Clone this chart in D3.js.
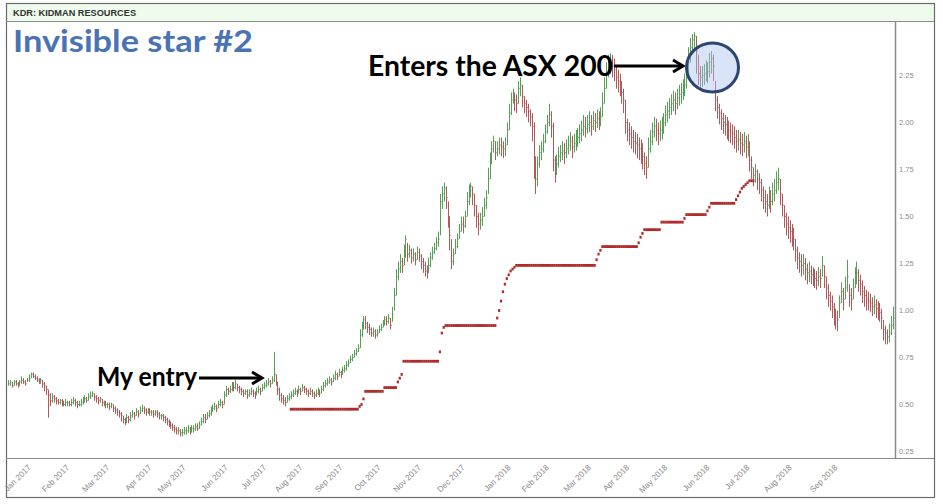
<!DOCTYPE html>
<html><head><meta charset="utf-8">
<script src="https://cdn.jsdelivr.net/npm/d3@7"></script>
<style>html,body{margin:0;padding:0;background:#fff}svg{display:block}</style>
</head><body>
<svg id="chart" width="943" height="504"></svg>
<script>
// ---- DATA (prices in cents, one bar per trading day) ----
const highC = [
63,63,62,63,63,62,63,65,64,63, 64,66,67,67,66,65,64,64,63,62,
60,58,56,56,55,54,53,53,53,52, 53,52,52,53,54,53,52,52,53,54,
55,54,56,57,57,56,55,54,54,53, 52,52,51,51,51,50,49,48,47,46,
44,43,45,44,46,47,46,48,47,49, 50,49,48,48,48,47,47,47,47,46,
45,45,44,43,42,41,40,39,38,38, 37,37,38,38,39,38,39,39,40,40,
41,43,45,45,46,47,49,50,51,50, 52,53,52,57,60,59,60,62,62,63,
61,60,59,58,58,58,58,59,58,57, 59,60,59,61,62,63,64,63,65,78,
66,62,59,56,55,54,55,56,57,58, 59,58,60,59,61,60,59,58,59,58,
57,58,59,58,60,62,63,64,65,64, 66,68,67,69,68,70,71,73,74,76,
77,79,80,82,90,94,97,97,94,93, 91,91,90,90,92,93,95,97,97,98,
96,102,112,122,126,130,128,135,140,136, 135,133,133,131,134,133,130,128,126,124,
128,131,134,136,139,142,162,166,168,166, 158,150,138,133,138,141,146,150,150,153,
163,167,168,166,162,156,152,152,155,160, 164,176,184,190,193,190,190,192,192,190,
192,200,210,216,218,216,215,222,224,220, 214,212,210,207,205,200,182,182,188,190,
194,199,204,210,206,200,182,183,187,188, 190,189,191,193,195,193,194,196,197,199,
201,204,203,204,206,204,206,205,207,206, 208,216,224,232,236,237,236,234,230,228,
226,222,218,212,202,200,198,196,195,194, 192,191,189,184,182,192,196,200,203,202,
200,201,203,205,209,211,213,215,217,216, 218,220,221,223,226,232,240,245,247,248,
246,236,230,230,231,233,232,237,238,236, 222,214,210,207,205,204,203,201,200,199,
198,196,196,195,194,195,193,194,190,182, 176,178,175,173,170,166,164,162,166,164,
168,170,174,176,170,162,156,152,150,148, 146,144,138,134,131,130,130,128,125,126,
124,123,122,121,123,122,129,124,118,114, 110,108,104,101,100,108,115,112,118,127,
114,112,117,123,126,122,119,116,113,111, 110,109,107,108,106,105,104,101,95,92,
90,93,97,102];
const lowC = [
60,60,59,60,60,59,60,61,61,60, 62,62,64,64,63,62,61,61,59,57,
55,43,49,51,51,50,50,50,49,49, 49,49,49,49,50,49,48,49,49,50,
51,51,52,53,54,52,51,50,51,49, 49,48,48,47,48,46,45,44,43,41,
40,39,40,40,41,43,42,44,43,45, 46,45,44,45,44,44,43,44,43,42,
42,41,40,39,38,37,36,35,34,34, 33,33,34,34,35,34,35,35,36,36,
37,39,40,40,42,43,44,46,47,46, 48,49,48,50,54,55,56,57,57,58,
57,56,55,54,55,53,54,55,54,53, 55,56,55,57,58,59,60,59,61,62,
60,55,52,51,50,49,51,52,53,54, 55,54,56,55,57,56,55,54,55,54,
53,54,55,54,56,57,59,60,61,60, 62,63,63,65,64,66,67,68,70,72,
73,75,76,78,80,86,90,90,88,87, 86,86,85,86,88,89,91,92,92,93,
90,94,100,108,116,120,120,124,128,126, 128,125,126,124,127,126,122,120,118,117,
120,123,127,130,132,134,140,154,158,154, 144,132,122,124,130,133,138,142,141,144,
150,156,160,156,150,144,140,143,145,150, 154,162,170,178,184,180,182,183,182,181,
182,188,196,204,210,206,205,210,214,208, 205,203,200,198,190,170,162,166,176,180,
184,189,194,198,192,174,168,172,176,179, 180,178,181,183,185,181,184,185,187,189,
190,193,192,194,195,193,196,195,197,196, 198,203,210,218,224,226,224,222,218,216,
214,210,205,194,190,188,186,184,183,181, 180,178,175,172,170,176,184,188,192,190,
188,190,191,194,198,200,202,204,206,204, 207,209,210,212,214,218,224,232,236,238,
226,220,218,219,220,222,221,224,226,222, 206,202,199,196,194,193,191,190,189,188,
186,184,185,183,182,184,181,182,174,170, 166,168,164,162,158,154,152,150,154,152,
156,158,162,164,156,150,144,140,138,136, 134,132,126,122,120,118,119,116,114,115,
114,113,112,111,113,112,118,112,106,102, 100,96,92,90,89,96,104,100,106,110,
102,100,106,112,114,110,108,104,102,100, 100,99,97,98,96,95,94,90,84,82,
82,83,87,90];
const closeC = [
61,62,60,62,61,60,62,63,62,61, 63,64,66,65,64,63,62,63,61,60,
58,55,52,54,53,52,51,52,51,50, 51,51,50,51,52,51,50,50,51,52,
53,52,54,55,56,54,53,52,53,51, 51,50,50,49,50,48,47,46,45,44,
42,41,43,42,44,45,44,46,45,47, 48,47,46,47,46,46,45,46,45,44,
44,43,42,41,40,39,38,37,36,36, 35,35,36,36,37,36,37,37,38,37,
39,41,43,42,44,45,47,48,49,48, 50,51,50,55,58,57,58,60,59,61,
59,58,57,56,57,55,56,57,56,55, 57,58,57,59,60,61,62,61,63,66,
62,58,55,53,52,51,53,54,55,56, 57,56,58,57,59,58,57,56,57,56,
55,56,57,56,58,60,61,62,63,62, 64,66,65,67,66,68,69,71,72,74,
75,77,78,80,87,90,95,93,91,90, 88,89,87,88,90,91,93,95,94,96,
92,98,108,118,122,126,124,132,138,130, 132,128,130,127,131,129,126,124,121,120,
124,128,131,133,136,138,158,162,165,160, 150,140,126,130,134,138,142,146,145,150,
158,164,166,162,156,150,146,148,150,156, 160,170,178,186,190,184,186,188,187,186,
188,196,205,212,215,212,210,218,220,214, 210,208,206,203,198,180,170,178,184,186,
190,195,200,204,198,180,176,178,182,184, 185,184,186,188,190,187,189,190,192,194,
196,198,197,199,200,198,201,200,202,201, 203,210,218,226,230,232,230,228,224,222,
220,216,212,200,196,194,192,190,189,188, 186,185,182,178,176,186,190,195,198,196,
194,196,197,200,204,206,208,210,212,210, 213,215,216,218,220,226,232,240,244,246,
238,226,224,225,226,228,227,232,234,230, 212,208,205,202,200,199,197,196,195,194,
192,190,191,189,188,190,187,188,180,176, 172,174,170,168,164,160,158,156,160,158,
162,164,168,170,162,156,150,146,144,142, 140,138,132,128,126,124,125,122,120,121,
119,118,117,116,118,117,124,118,112,108, 105,102,98,96,95,104,110,106,112,118,
108,106,112,118,120,116,114,110,108,106, 105,104,102,103,101,100,99,96,90,88,
86,88,92,96];

// trailing stop (dollars), first value belongs to bar index stopStart
const stopStart = 148;
const stopValues = [
0.475,0.475,0.475,0.475,0.475,0.475,0.475,0.475,0.475,0.475,0.475,0.475,
0.475,0.475,0.475,0.475,0.475,0.475,0.475,0.475,0.475,0.475,0.475,0.475,
0.475,0.475,0.475,0.475,0.475,0.475,0.475,0.475,0.475,0.475,0.475,0.475,
0.49,0.50,0.53,
0.57,0.57,0.57,0.57,0.57,0.57,0.57,0.57,0.57,0.57,
0.59,0.59,0.59,0.59,0.59,0.59,0.59,
0.62,0.64,0.66,
0.73,0.73,0.73,0.73,0.73,0.73,0.73,0.73,0.73,0.73,0.73,0.73,0.73,0.73,0.73,0.73,0.73,0.73,0.73,
0.78,0.88,0.91,
0.92,0.92,0.92,0.92,0.92,0.92,0.92,0.92,0.92,0.92,0.92,0.92,0.92,0.92,0.92,0.92,0.92,0.92,0.92,0.92,0.92,0.92,0.92,0.92,0.92,0.92,0.92,
0.96,1.00,1.05,1.10,1.14,1.17,1.19,1.21,1.22,1.23,
1.24,1.24,1.24,1.24,1.24,1.24,1.24,1.24,1.24,1.24,1.24,1.24,1.24,1.24,1.24,1.24,1.24,1.24,1.24,1.24,1.24,
1.24,1.24,1.24,1.24,1.24,1.24,1.24,1.24,1.24,1.24,1.24,1.24,1.24,1.24,1.24,1.24,1.24,1.24,1.24,1.24,1.24,
1.27,1.30,1.32,
1.34,1.34,1.34,1.34,1.34,1.34,1.34,1.34,1.34,1.34,1.34,1.34,1.34,1.34,1.34,1.34,1.34,1.34,1.34,
1.36,1.39,1.41,
1.43,1.43,1.43,1.43,1.43,1.43,1.43,1.43,1.43,
1.47,1.47,1.47,1.47,1.47,1.47,1.47,1.47,1.47,1.47,1.47,1.47,
1.49,
1.51,1.51,1.51,1.51,1.51,1.51,1.51,1.51,1.51,1.51,1.51,
1.53,1.55,
1.57,1.57,1.57,1.57,1.57,1.57,1.57,1.57,1.57,1.57,1.57,1.57,1.57,
1.59,1.61,1.63,1.65,1.66,1.67,1.68,1.69,1.69,1.69];

const monthLabels = ["Jan 2017","Feb 2017","Mar 2017","Apr 2017","May 2017","Jun 2017","Jul 2017",
  "Aug 2017","Sep 2017","Oct 2017","Nov 2017","Dec 2017","Jan 2018","Feb 2018","Mar 2018",
  "Apr 2018","May 2018","Jun 2018","Jul 2018","Aug 2018","Sep 2018"];
const monthIdx = [11,31,52,74,92,114,134,153,174,194,215,238,262,282,304,324,344,366,387,409,433];
const yTicks = [0.25,0.50,0.75,1.00,1.25,1.50,1.75,2.00,2.25];

const headerText = "KDR: KIDMAN RESOURCES";
const titleText = "Invisible star #2";
const note1 = "Enters the ASX 200";
const note2 = "My entry";

// ---- LAYOUT ----
const svg = d3.select("#chart");
const frame = {l:6, r:934, t:3, b:497, hdr:21, plotR:895, plotB:458};
const N = closeC.length;
const x = d3.scaleLinear().domain([0, N - 1]).range([8, 892.8]);
const y = d3.scaleLinear().domain([0.25, 2.5]).range([451.5, 28.5]);

// header band
svg.append("rect").attr("x", frame.l).attr("y", frame.t).attr("width", frame.r - frame.l)
  .attr("height", frame.hdr - frame.t).attr("fill", "#eefaec");
svg.append("text").attr("x", 13).attr("y", 15.5).text(headerText)
  .attr("font-family", "Liberation Sans, Arial, sans-serif").attr("font-weight", "bold")
  .attr("font-size", 9.2).attr("fill", "#333");

// frame lines
const lineCol = "#8a8a8a";
svg.append("rect").attr("x", frame.l + 0.5).attr("y", frame.t + 0.5)
  .attr("width", frame.r - frame.l).attr("height", frame.b - frame.t)
  .attr("fill", "none").attr("stroke", "#6a6a6a").attr("stroke-width", 1.2);
svg.append("line").attr("x1", frame.l).attr("x2", frame.r).attr("y1", frame.hdr + 0.5).attr("y2", frame.hdr + 0.5)
  .attr("stroke", lineCol).attr("stroke-width", 1.2);
svg.append("line").attr("x1", frame.plotR + 0.5).attr("x2", frame.plotR + 0.5).attr("y1", frame.hdr).attr("y2", frame.plotB)
  .attr("stroke", lineCol).attr("stroke-width", 1.5);
svg.append("line").attr("x1", frame.l).attr("x2", frame.r).attr("y1", frame.plotB + 0.5).attr("y2", frame.plotB + 0.5)
  .attr("stroke", lineCol).attr("stroke-width", 1.2);

// y axis (right)
const yAxis = d3.axisRight(y).tickValues(yTicks).tickSize(0).tickPadding(0).tickFormat(d3.format(".2f"));
const gy = svg.append("g").attr("transform", `translate(${frame.plotR + 4},0)`).call(yAxis);
gy.select(".domain").remove();
gy.selectAll("text").attr("font-family", "Liberation Sans, Arial, sans-serif").attr("font-size", 7.5).attr("fill", "#8c8c8c");

// x axis (month labels, rotated)
const xAxis = d3.axisBottom(x).tickValues(monthIdx).tickSize(0).tickPadding(0)
  .tickFormat((d, i) => monthLabels[i]);
const gx = svg.append("g").attr("transform", `translate(0,${frame.plotB + 8})`).call(xAxis);
gx.select(".domain").remove();
gx.selectAll("text").attr("font-family", "Liberation Sans, Arial, sans-serif").attr("font-size", 8.2)
  .attr("fill", "#8a8a8a").attr("text-anchor", "end").attr("dy", "0.35em")
  .attr("transform", "rotate(-45)");

// OHLC-style bars
const bars = svg.append("g");
closeC.forEach((c, i) => {
  const up = i === 0 ? true : c >= closeC[i - 1];
  const col = up ? "#55a055" : "#b25858";
  const xi = Math.round(x(i)) + 0.5;
  bars.append("line").attr("x1", xi).attr("x2", xi)
    .attr("y1", y(highC[i] / 100)).attr("y2", y(lowC[i] / 100))
    .attr("stroke", col).attr("stroke-width", 1);
  bars.append("line").attr("x1", xi).attr("x2", xi + 1.2)
    .attr("y1", y(c / 100)).attr("y2", y(c / 100))
    .attr("stroke", col).attr("stroke-width", 1);
});

// trailing stop dots
svg.append("g").selectAll("rect").data(stopValues).join("rect")
  .attr("x", (d, k) => x(stopStart + k) - 1.1)
  .attr("y", d => y(d) - 1.4)
  .attr("width", 2.2).attr("height", 2.8)
  .attr("fill", "#b02a2a");

// title
svg.append("text").attr("x", 13).attr("y", 52).text(titleText)
  .attr("font-family", "Lato, 'Open Sans', sans-serif").attr("font-weight", "bold")
  .attr("font-size", 31).attr("fill", "#4a73b3")
  .attr("textLength", 240).attr("lengthAdjust", "spacingAndGlyphs");

// annotation helper
function arrow(x1, x2, yy) {
  const g = svg.append("g").attr("stroke", "#000").attr("stroke-width", 3).attr("fill", "none")
    .attr("stroke-linecap", "butt");
  g.append("line").attr("x1", x1).attr("x2", x2 - 1).attr("y1", yy).attr("y2", yy);
  g.append("polyline").attr("points", `${x2 - 10},${yy - 6} ${x2},${yy} ${x2 - 10},${yy + 6}`)
    .attr("stroke-linejoin", "miter");
}
svg.append("text").attr("x", 368).attr("y", 76).text(note1)
  .attr("font-family", "Lato, 'Open Sans', sans-serif").attr("font-weight", "bold")
  .attr("font-size", 28).attr("fill", "#000")
  .attr("textLength", 245).attr("lengthAdjust", "spacingAndGlyphs");
arrow(614, 683, 66);
svg.append("text").attr("x", 97).attr("y", 386).text(note2)
  .attr("font-family", "Lato, 'Open Sans', sans-serif").attr("font-weight", "bold")
  .attr("font-size", 26).attr("fill", "#000")
  .attr("textLength", 100).attr("lengthAdjust", "spacingAndGlyphs");
arrow(199, 262, 378);

// highlight circle
svg.append("ellipse").attr("cx", 712.5).attr("cy", 67.5).attr("rx", 26).attr("ry", 24.5)
  .attr("fill", "rgba(170,195,240,0.45)").attr("stroke", "#2d4573").attr("stroke-width", 3);
</script>
</body></html>
